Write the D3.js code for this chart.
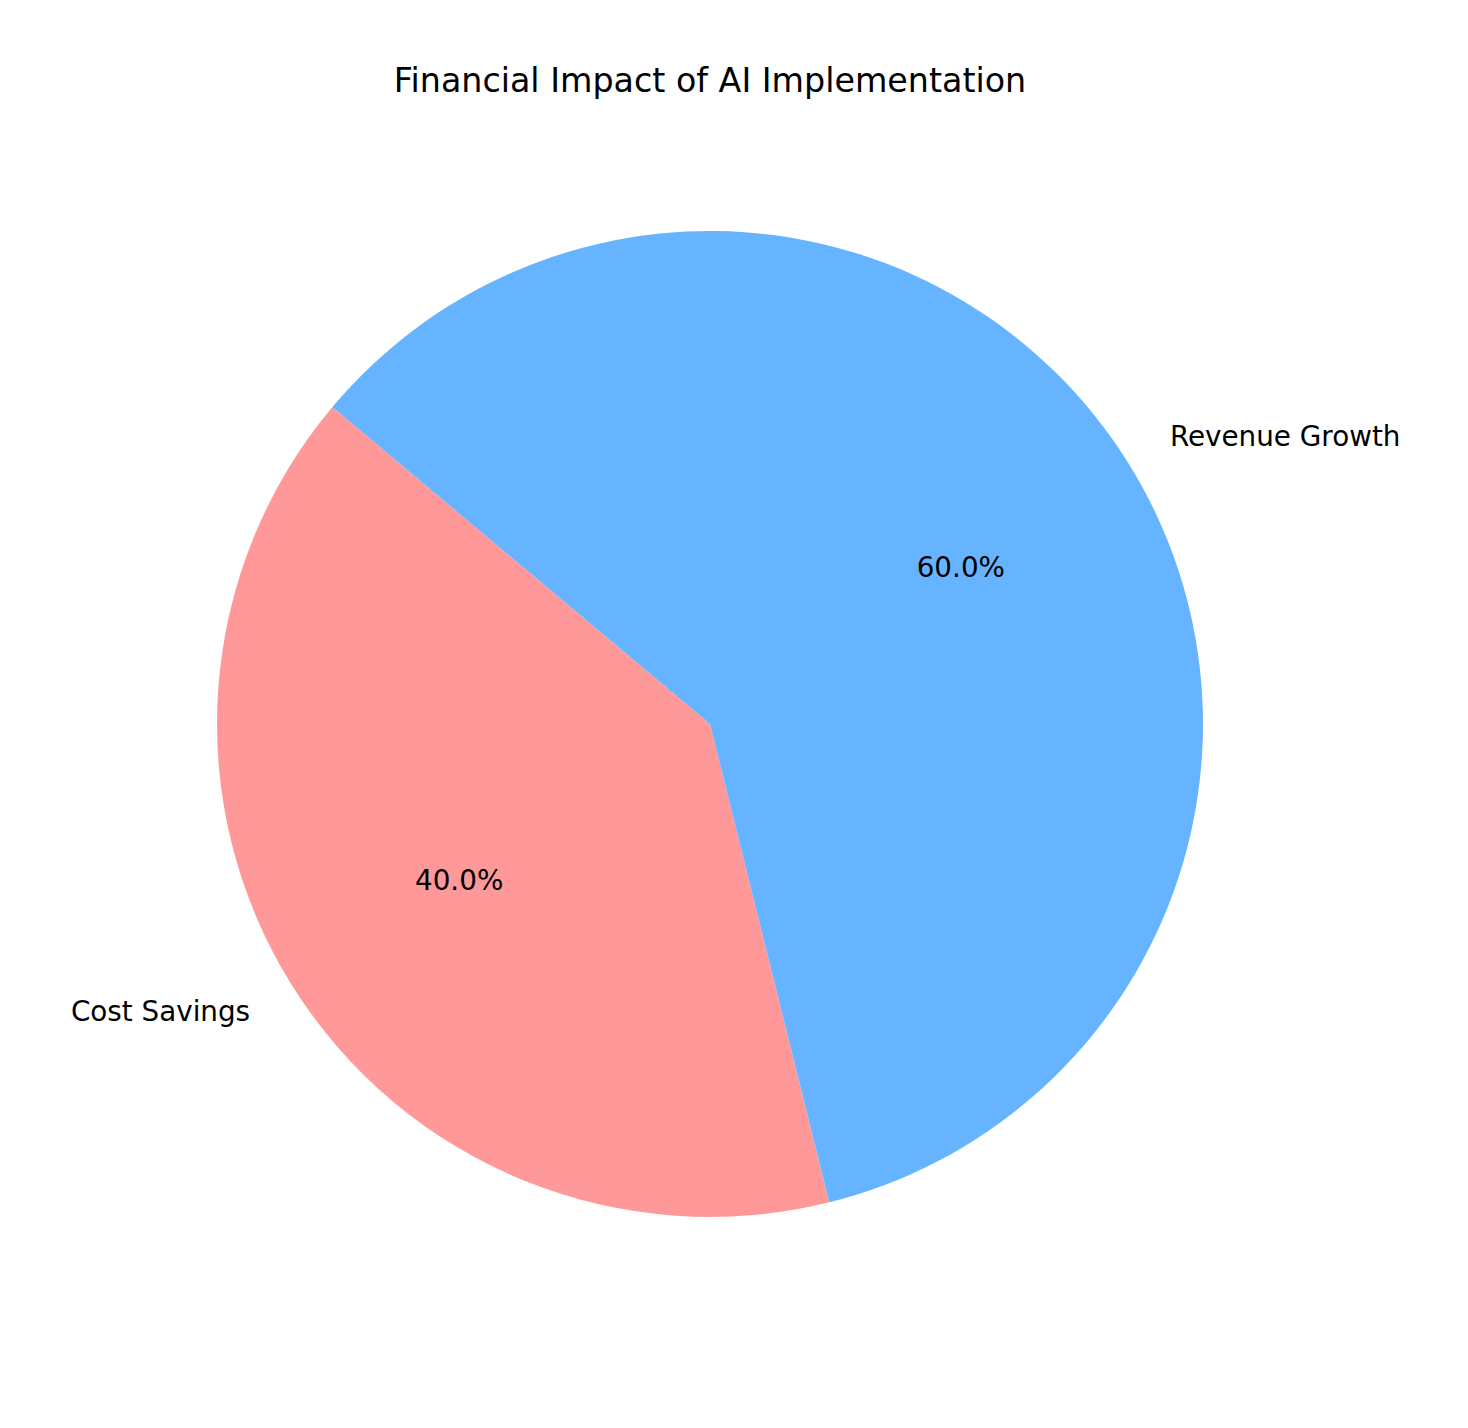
<!DOCTYPE html>
<html><head><meta charset="utf-8">
<script src="https://cdn.jsdelivr.net/npm/d3@7"></script>
<style>body{margin:0;background:#fff}svg{display:block}text{font-family:"DejaVu Sans",sans-serif;fill:#000}</style>
</head><body><svg id="c" width="1468" height="1428"></svg>
<script>
const categories = ["Cost Savings", "Revenue Growth"];
const values = [40, 60];
const colors = ["#ff9999", "#66b3ff"];
const title = "Financial Impact of AI Implementation";

const svg = d3.select("#c");
const cx = 710, cy = 724, R = 493;
const startDeg = 140;
// matplotlib: counterclockwise from startangle; d3: clockwise from 12 o'clock
const toD3 = deg => (90 - deg) * Math.PI / 180;
const total = d3.sum(values);
let acc = startDeg;
const slices = values.map((v, i) => {
  const a0 = acc, a1 = acc + v / total * 360; acc = a1;
  return {i, v, a0, a1, mid: (a0 + a1) / 2};
});
const arc = d3.arc().innerRadius(0).outerRadius(R);
const g = svg.append("g").attr("transform", `translate(${cx},${cy})`);
g.selectAll("path").data(slices).join("path")
  .attr("d", d => arc({startAngle: toD3(d.a1), endAngle: toD3(d.a0)}))
  .attr("fill", d => colors[d.i]);
const rad = d => d.mid * Math.PI / 180;
g.selectAll("text.lbl").data(slices).join("text").attr("class","lbl")
  .attr("x", d => 1.1 * R * Math.cos(rad(d)))
  .attr("y", d => -1.1 * R * Math.sin(rad(d)))
  .attr("text-anchor", d => Math.cos(rad(d)) >= 0 ? "start" : "end")
  .attr("dy", "0.35em")
  .style("font-size", "27.8px")
  .text(d => categories[d.i]);
g.selectAll("text.pct").data(slices).join("text").attr("class","pct")
  .attr("x", d => 0.6 * R * Math.cos(rad(d)))
  .attr("y", d => -0.6 * R * Math.sin(rad(d)))
  .attr("text-anchor", "middle")
  .attr("dy", "0.35em")
  .style("font-size", "27.8px")
  .text(d => (d.v / total * 100).toFixed(1) + "%");
svg.append("text").attr("x", 710).attr("y", 92).attr("text-anchor","middle")
  .style("font-size","33.3px").text(title);
</script></body></html>
